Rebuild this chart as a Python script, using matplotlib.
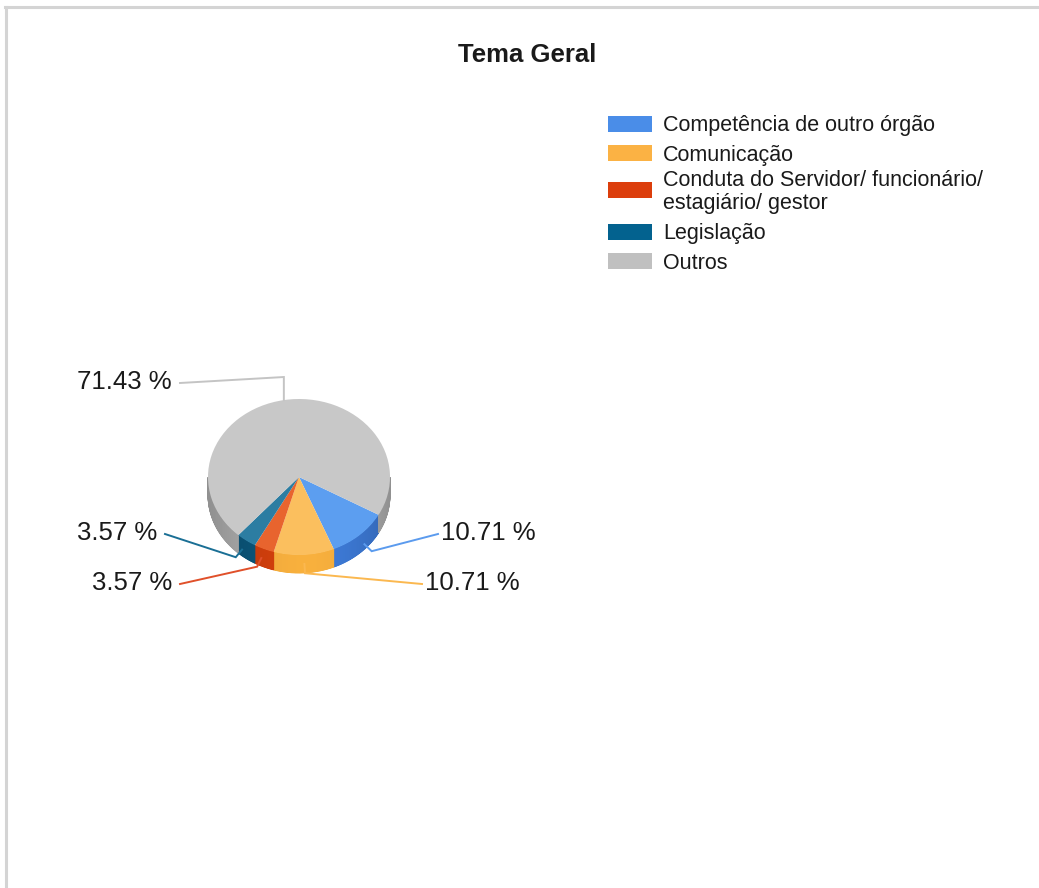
#!/usr/bin/env python3
"""
Tema Geral - 3D style pie chart with legend and leader-line labels.
"""
import matplotlib
matplotlib.use('Agg')
import matplotlib.pyplot as plt
from matplotlib.patches import Polygon, Rectangle
from matplotlib.lines import Line2D
import matplotlib.colors as mcolors
import numpy as np

plt.rcParams['font.family'] = ['Liberation Sans', 'DejaVu Sans']

# ── data ──
categories = ['Competência de outro órgão', 'Comunicação',
              'Conduta do Servidor/ funcionário/\nestagiário/ gestor',
              'Legislação', 'Outros']
percentages = [10.71, 10.71, 3.57, 3.57, 71.43]

legend_colors = ['#4a8de8', '#fbb244', '#dc3e0c', '#03628f', '#c0c0c0']
top_colors = ['#5c9ef0', '#fbbf5e', '#e8642e', '#2c7da2', '#c8c8c8']
side_colors = ['#3a74cc', '#eaa63a', '#c83c0c', '#0a5275', '#a8a8a8']
line_colors = ['#5b9bee', '#fbb850', '#e0502a', '#1a6f95', '#c4c4c4']

W, H = 1039, 888
fig = plt.figure(figsize=(W / 100, H / 100), dpi=100)
fig.patch.set_facecolor('white')

# thin grey frame (top and left only)
fig.add_artist(Line2D([5 / W, 1], [1 - 7 / H, 1 - 7 / H], color='#d4d4d4', lw=2.2))
fig.add_artist(Line2D([6 / W, 6 / W], [0, 1 - 7 / H], color='#d4d4d4', lw=2.2))

fig.text(527 / W, 1 - 55 / H, 'Tema Geral', ha='center', va='center',
         fontsize=18.5, fontweight='bold', color='#1a1a1a')

# ── pie axes: 1 unit = 91 px horizontally, 78 px vertically ──
rx, ry = 91, 78
cx, cy = 299, 477
xr, yr = 3.0, 2.0
ax = fig.add_axes([(cx - xr * rx) / W, (H - cy - yr * ry) / H,
                   2 * xr * rx / W, 2 * yr * ry / H])
depth = 18 / ry

wedges, _ = ax.pie(percentages, colors=top_colors, startangle=-29,
                   counterclock=False, radius=1.0,
                   wedgeprops=dict(linewidth=0, zorder=5))
ax.set_aspect('auto')
ax.set_xlim(-xr, xr)
ax.set_ylim(-yr, yr)
ax.axis('off')

# side walls on the front half, shaded towards the viewer
for w, sc in zip(wedges, side_colors):
    t1, t2 = w.theta1, w.theta2
    # bring both angles into (-360, 0]
    while t2 > 0:
        t1 -= 360
        t2 -= 360
    segs = np.linspace(t1, t2, max(4, int((t2 - t1) * 2)))
    base = np.array(mcolors.to_rgb(sc))
    for a, b in zip(segs[:-1], segs[1:]):
        for lo, hi in [(a, b), (a + 360, b + 360)]:
            lo_c, hi_c = max(lo, -180), min(hi, 0)
            if hi_c <= lo_c:
                continue
            th = np.radians(np.linspace(lo_c, hi_c, 4))
            xs, ys = np.cos(th), np.sin(th)
            pts = np.vstack([np.column_stack([xs, ys]),
                             np.column_stack([xs[::-1], ys[::-1] - depth])])
            mid = np.radians((lo_c + hi_c) / 2)
            f = 0.86 + 0.2 * max(0.0, np.cos(mid + np.radians(85))) ** 2
            col = np.clip(base * f, 0, 1)
            ax.add_patch(Polygon(pts, closed=True, facecolor=col,
                                 edgecolor=col, lw=0.6, zorder=3))

# ── leader lines and value labels ──
label_pos = [(441, 533, 'left'), (425, 583, 'left'), (172, 583, 'right'),
             (157, 533, 'right'), (172, 382, 'right')]


def to_data(px, py):
    return (px - cx) / rx, (cy - py) / ry


for w, pct, lc, (lx, ly, ha) in zip(wedges, percentages, line_colors, label_pos):
    mid = np.radians((w.theta1 + w.theta2) / 2)
    ux, uy = np.cos(mid), np.sin(mid)
    if uy < 0:
        ax_pt = (1.08 * ux, 1.0 * uy - depth * 0.5)
        el_pt = (1.2 * ux, 1.12 * uy - depth * 0.5)
    else:
        ax_pt = (ux, uy)
        el_pt = (1.0 * ux, 1.3 * uy)
    gap = 8 if ha == 'right' else -3
    end = to_data(lx + gap, ly + 1)
    ax.plot([ax_pt[0], el_pt[0], end[0]], [ax_pt[1], el_pt[1], end[1]],
            color=lc, lw=1.4, zorder=6, solid_joinstyle='miter')
    tx, ty = to_data(lx, ly)
    ax.text(tx, ty, f'{pct:.2f} %', ha=ha, va='center', fontsize=18.5,
            color='#1a1a1a', zorder=7)

# ── legend ──
legend_y = [124, 153, 190, 232, 261]
for name, col, y in zip(categories, legend_colors, legend_y):
    fig.add_artist(Rectangle((608 / W, 1 - (y + 8) / H), 44 / W, 16 / H,
                             facecolor=col, edgecolor='none',
                             transform=fig.transFigure))
    fig.text(663 / W, 1 - (y + 2) / H, name, ha='left', va='center',
             fontsize=15.5, color='#1a1a1a', linespacing=1.13)

fig.savefig('out.png', dpi=100, facecolor='white')
plt.close()
